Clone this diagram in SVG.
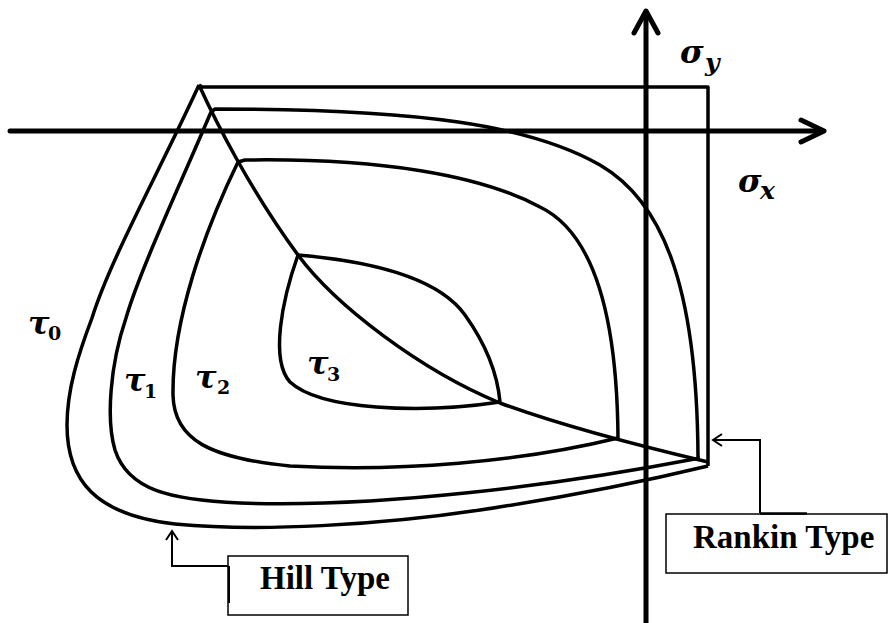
<svg xmlns="http://www.w3.org/2000/svg" width="888" height="623" viewBox="0 0 888 623">
<style>
.axis{fill:none;stroke:#000;stroke-width:5;stroke-linecap:round;stroke-linejoin:round}
.curve{fill:none;stroke:#000;stroke-width:3.5;stroke-linejoin:round}
.lead{fill:none;stroke:#000;stroke-width:2}
.box{fill:#fff;stroke:#000;stroke-width:1.5}
.lbl{font-family:'Liberation Serif','Times New Roman','DejaVu Serif',serif;font-weight:700;font-size:33px;fill:#000}
.tau{font-family:'DejaVu Serif',serif;font-weight:700;font-style:italic;font-size:32px;fill:#000}
.sub{font-family:'DejaVu Serif',serif;font-weight:700;font-size:19px;fill:#000}
.sig{font-family:'DejaVu Serif',serif;font-weight:700;font-style:italic;font-size:32px;fill:#000}
.sigs{font-family:'DejaVu Serif',serif;font-weight:700;font-style:italic;font-size:25px;fill:#000}
</style>
<rect width="888" height="623" fill="#fff"/>
<g id="axes">
<line class="axis" x1="10" y1="131" x2="822" y2="131"/>
<polyline class="axis" points="801,120 824,131 801,142"/>
<line class="axis" x1="646" y1="12" x2="646" y2="623"/>
<polyline class="axis" points="634,33 646,11 658,33"/>
</g>
<g id="diagonal">
<path class="curve" d="M199,85 C215,120 250,190 298,255 C335,305 420,370 500,403 C560,425 640,446 708,462"/>
</g>
<g id="tau0">
<path class="curve" d="M199,85 L202,87 H708 V466"/>
<path class="curve" d="M199,85 C160,170 110,260 92,318 C78,355 67,390 67,425 C67,480 95,515 175,524 C260,532 380,525 480,510 C580,495 650,480 708,466"/>
</g>
<g id="tau1">
<path class="curve" d="M211,112 L215,109 C420,109 530,125 600,165 C660,200 697,280 698,457"/>
<path class="curve" d="M211,112 C180,185 140,270 126,318 C110,365 106,420 115,450 C128,490 170,500 240,503 C380,508 560,485 700,458"/>
</g>
<g id="tau2">
<path class="curve" d="M238,162 L245,160 C380,158 480,175 540,207 C592,232 617,310 618,438"/>
<path class="curve" d="M238,162 C205,230 172,320 173,395 C174,440 210,458 290,466 C400,472 520,462 618,438"/>
</g>
<g id="tau3">
<path class="curve" d="M298,255 C380,262 440,280 465,315 C490,350 498,380 500,402"/>
<path class="curve" d="M298,255 C282,300 270,360 290,382 C320,410 420,414 500,402"/>
</g>
<g id="labels">
<text class="tau" x="28" y="334">τ</text><text class="sub" x="48" y="340">0</text>
<text class="tau" x="124" y="391">τ</text><text class="sub" x="144" y="398">1</text>
<text class="tau" x="195" y="388">τ</text><text class="sub" x="217" y="394">2</text>
<text class="tau" x="307" y="374">τ</text><text class="sub" x="327" y="381">3</text>
<text class="sig" x="680" y="63">σ</text><text class="sigs" x="705" y="71">y</text>
<text class="sig" x="738" y="192">σ</text><text class="sigs" x="760" y="199">x</text>
</g>
<g id="connectors">
<polyline class="lead" points="713,440 760,440 760,513"/>
<polyline class="lead" points="722,434 713,440 722,446"/>
<polyline class="lead" points="172,531 172,566 228,566"/>
<polyline class="lead" points="166,540 172,531 178,540"/>
</g>
<g id="rankin">
<rect class="box" x="666" y="514" width="221" height="59"/>
<line x1="760" y1="513.5" x2="807" y2="513.5" stroke="#000" stroke-width="2.5"/>
<text class="lbl" x="693" y="548">Rankin Type</text>
</g>
<g id="hill">
<rect class="box" x="228" y="556" width="180" height="59"/>
<line x1="229" y1="566" x2="229" y2="603" stroke="#000" stroke-width="2"/>
<text class="lbl" x="260" y="589">Hill Type</text>
</g>
</svg>
